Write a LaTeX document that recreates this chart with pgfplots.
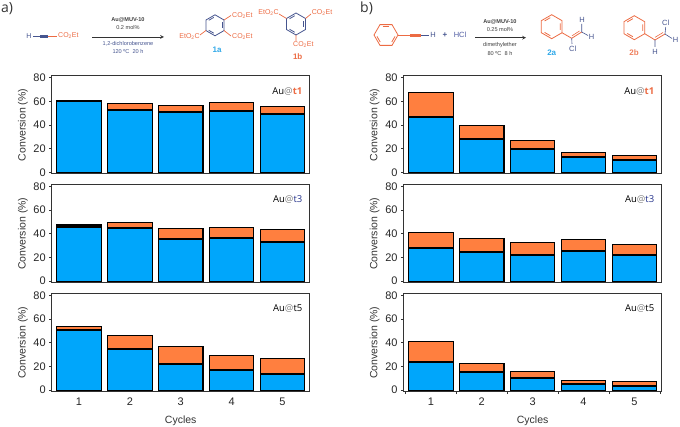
\documentclass[border=0pt]{standalone}
\usepackage{fontspec}
\usepackage{pgfplots}
\usepackage{pgfplotstable}
\pgfplotsset{compat=1.18}
\setmainfont{Liberation Sans}
\newfontfamily\opensans{Open Sans}

\definecolor{barblue}{HTML}{00A6FB}
\definecolor{barorange}{HTML}{FF7F3F}
\definecolor{framegray}{HTML}{333333}
\definecolor{chemorange}{HTML}{EC6B43}
\definecolor{chemblue}{HTML}{46558F}
\definecolor{labelblue}{HTML}{2FA8E8}
\definecolor{navy}{HTML}{26348C}

% cycle, top of blue part, top of whole bar
\pgfplotstableread{
c b t
1 59.9 61.0
2 52.5 58.1
3 50.8 56.1
4 51.9 59.2
5 49.4 55.3
}\atone
\pgfplotstableread{
c b t
1 46.0 47.3
2 44.8 49.2
3 35.5 44.5
4 36.6 45.3
5 33.0 43.6
}\atthree
\pgfplotstableread{
c b t
1 51.0 53.6
2 34.5 46.0
3 22.2 37.0
4 16.6 29.5
5 13.8 27.0
}\atfive
\pgfplotstableread{
c b t
1 46.6 67.6
2 28.4 39.9
3 20.0 26.7
4 13.0 16.8
5 10.7 14.3
}\btone
\pgfplotstableread{
c b t
1 28.0 41.1
2 24.6 36.0
3 22.4 32.7
4 25.2 35.2
5 21.8 30.8
}\btthree
\pgfplotstableread{
c b t
1 24.1 40.7
2 14.9 22.7
3 10.1 16.0
4 4.8 8.4
5 3.6 7.6
}\btfive

\pgfplotsset{
  conv/.style={
    scale only axis, width=258pt, height=98pt, anchor=south west,
    xmin=0.464, xmax=5.534, ymin=-1.3, ymax=81.3,
    ytick={0,20,40,60,80}, ytick pos=left, xtick pos=bottom,
    tick align=outside, major tick length=2.5pt, minor tick length=2.5pt,
    tick style={framegray,line width=.7pt},
    axis line style={framegray,line width=1pt},
    ylabel={Conversion (\%)},
    ylabel style={at={(axis description cs:-0.112,0.5)},anchor=center,font=\fontsize{10.5}{12}\selectfont,text=black!80},
    tick label style={font=\fontsize{11}{13}\selectfont,text=black!85},
    /pgf/number format/assume math mode=true,
    xtick=\empty,
  },
  cycles/.style={
    xtick={1,2,3,4,5}, major x tick style={draw=none},
    xlabel={Cycles},
    xlabel style={at={(axis description cs:0.5,-0.295)},anchor=center,font=\fontsize{10.5}{12}\selectfont,text=black!80},
  },
}

% x, y, table, label, extra axis options
\newcommand\panel[5]{
\begin{axis}[conv,at={(#1pt,#2pt)},#5]
  \addplot[ybar,bar width=0.875,bar shift=0pt,fill=barorange,draw=black,line width=1.1pt] table[x=c,y=t] {#3};
  \addplot[ybar,bar width=0.875,bar shift=0pt,fill=barblue,draw=black,line width=1.1pt] table[x=c,y=b] {#3};
  \addplot[draw=none,mark=none,error bars/.cd,x dir=both,x fixed=0.4375,error mark=none,
    error bar style={draw=black,line width=2pt}] table[x=c,y=b] {#3};
  \node[anchor=east,font=\opensans\fontsize{9.5}{11}\selectfont] at (rel axis cs:0.985,0.845) {#4};
\end{axis}
}

\newcommand\benzene[5]{% x, y, radius, rotation, colour
\begin{scope}[shift={(#1,#2)},rotate=#4,draw=#5,line width=.8pt]
  \draw (0:#3)--(60:#3)--(120:#3)--(180:#3)--(240:#3)--(300:#3)--cycle;
  \foreach \a in {0,120,240} \draw ({\a+9}:{0.76*#3})--({\a+51}:{0.76*#3});
\end{scope}
}

\newcommand\chem[4][center]{\node[anchor=#1,inner sep=0pt,font=\fontsize{7}{8}\selectfont,text=chemorange] at (#2,#3) {#4};}
\newcommand\cond[4][black!75]{\node[inner sep=0pt,font=\fontsize{5.6}{7}\selectfont,text=#1] at (#2,#3) {#4};}

\begin{document}
\begin{tikzpicture}[x=1pt,y=1pt]
\path[use as bounding box] (0,0) rectangle (680,426);

\panel{51.7}{252}{\atone}{Au{\color{gray}@}\textcolor{chemorange}{\textbf{t1}}}{}
\panel{51.7}{143.3}{\atthree}{Au{\color{gray}@}\textcolor{navy}{t3}}{}
\panel{51.7}{34.3}{\atfive}{Au{\color{gray}@}t5}{cycles}
\panel{403.6}{252}{\btone}{Au{\color{gray}@}\textcolor{chemorange}{\textbf{t1}}}{}
\panel{403.6}{143.3}{\btthree}{Au{\color{gray}@}\textcolor{navy}{t3}}{}
\panel{403.6}{34.3}{\btfive}{Au{\color{gray}@}t5}{cycles,minor xtick={0.5,1.5,2.5,3.5,4.5,5.5}}

% reaction schemes, in picture pixels with y pointing down
\begin{scope}[yshift=426pt,y=-1pt]
\node[anchor=west,inner sep=0pt,font=\opensans\fontsize{14}{16}\selectfont,text=black!80] at (1,9) {a)};
\node[anchor=west,inner sep=0pt,font=\opensans\fontsize{14}{16}\selectfont,text=black!80] at (360,8) {b)};

% a: alkyne
\node[inner sep=0pt,font=\fontsize{7}{8}\selectfont,text=chemblue] at (29,36) {H};
\draw[chemblue,line width=.6pt] (33,36)--(40,36);
\draw[chemblue,line width=.5pt] (40,34.8)--(48,34.8) (40,36)--(48,36) (40,37.2)--(48,37.2);
\draw[chemorange,line width=.6pt] (48,36)--(57,36);
\chem[west]{58}{36}{CO\textsubscript{2}Et}
\draw[black!80,line width=.7pt,-stealth] (92,37)--(164,37);
\cond{128}{20}{\textbf{Au@MUV-10}}
\cond{128}{28}{0.2 mol\%}
\cond[chemblue]{128}{44}{1,2-dichlorobenzene}
\cond[chemblue]{128}{52}{120 ºC\ \ 20 h}

% 1a
\benzene{215}{25.3}{10.5}{30}{chemblue}
\draw[chemorange,line width=.7pt] (224,20)--(231,15.5) (224,30.5)--(231,36) (206,30.5)--(200,35);
\chem[west]{232}{16}{CO\textsubscript{2}Et}
\chem[west]{232}{37}{CO\textsubscript{2}Et}
\chem[east]{200}{36.5}{EtO\textsubscript{2}C}
\node[inner sep=0pt,font=\bfseries\fontsize{8}{9}\selectfont,text=labelblue] at (217,50) {1a};

% 1b
\benzene{296}{24}{11}{30}{chemblue}
\draw[chemorange,line width=.7pt] (286.5,18.5)--(279,14) (305.5,18.5)--(311,14) (296,35)--(296,41);
\chem[west]{311.7}{13}{CO\textsubscript{2}Et}
\chem[east]{279}{13}{EtO\textsubscript{2}C}
\chem[west]{293}{45}{CO\textsubscript{2}Et}
\node[inner sep=0pt,font=\bfseries\fontsize{8}{9}\selectfont,text=chemorange] at (297.7,57) {1b};

% b: phenylacetylene + HCl
\benzene{386}{35}{12}{0}{chemorange}
\draw[chemorange,line width=.7pt] (398,35)--(410,35);
\draw[chemorange,line width=.5pt] (410,33.8)--(421,33.8) (410,35)--(421,35) (410,36.2)--(421,36.2);
\draw[chemblue,line width=.6pt] (421,35)--(429,35);
\node[inner sep=0pt,font=\fontsize{7.5}{9}\selectfont,text=chemblue] at (433,35) {H};
\node[inner sep=0pt,font=\bfseries\fontsize{8}{9}\selectfont,text=chemblue] at (445,35) {+};
\node[inner sep=0pt,font=\fontsize{7.5}{9}\selectfont,text=navy!80] at (460,35) {HCl};
\draw[black!80,line width=.7pt,-stealth] (475,37.7)--(526,37.7);
\cond{500}{22}{\textbf{Au@MUV-10}}
\cond{500}{30}{0.25 mol\%}
\cond{500}{45}{dimethylether}
\cond{500}{54}{80 ºC\ \ 8 h}

% 2a
\benzene{551.7}{26.7}{12}{30}{chemorange}
\draw[chemorange,line width=.8pt] (562,32.7)--(571.7,38.3)--(581.7,32);
\draw[chemorange,line width=.6pt] (572,35.8)--(579.5,31);
\draw[chemblue,line width=.6pt] (571.7,38.3)--(572,44) (581.7,32)--(581.7,24) (581.7,32)--(588,35.5);
\node[inner sep=0pt,font=\fontsize{7.5}{9}\selectfont,text=chemblue] at (582,19.7) {H};
\node[inner sep=0pt,font=\fontsize{7.5}{9}\selectfont,text=chemblue] at (591.7,36.7) {H};
\node[inner sep=0pt,font=\fontsize{7.5}{9}\selectfont,text=chemblue] at (572.7,49.3) {Cl};
\node[inner sep=0pt,font=\bfseries\fontsize{8}{9}\selectfont,text=labelblue] at (551.7,52.7) {2a};

% 2b
\benzene{634.3}{27.7}{12}{30}{chemorange}
\draw[chemorange,line width=.8pt] (644.7,33.7)--(655,40)--(665,34);
\draw[chemorange,line width=.6pt] (655,37.3)--(663,32.5);
\draw[chemblue,line width=.6pt] (655,40)--(655,47) (665,34)--(665.7,27) (665,34)--(672,38.5);
\node[inner sep=0pt,font=\fontsize{7.5}{9}\selectfont,text=chemblue] at (655,51.7) {H};
\node[inner sep=0pt,font=\fontsize{7.5}{9}\selectfont,text=chemblue] at (665.7,22.7) {Cl};
\node[inner sep=0pt,font=\fontsize{7.5}{9}\selectfont,text=chemblue] at (675.7,40) {H};
\node[inner sep=0pt,font=\bfseries\fontsize{8}{9}\selectfont,text=chemorange!85] at (634,52.3) {2b};
\end{scope}
\end{tikzpicture}
\end{document}
